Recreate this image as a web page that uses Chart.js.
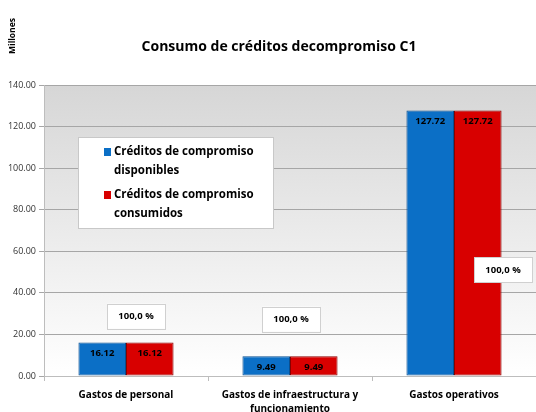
<!DOCTYPE html>
<html><head><meta charset="utf-8">
<script src="https://cdn.jsdelivr.net/npm/chart.js@4/dist/chart.umd.min.js"></script>
<style>html,body{margin:0;padding:0;background:#fff}#wrap{width:536px;height:412px;position:relative}</style>
</head><body><div id="wrap"><canvas id="c" width="536" height="412"></canvas></div>
<script>
const categories = [["Gastos de personal"], ["Gastos de infraestructura y", "funcionamiento"], ["Gastos operativos"]];
const seriesNames = ["Créditos de compromiso disponibles", "Créditos de compromiso consumidos"];
const disponibles = [16.12, 9.49, 127.72];
const consumidos = [16.12, 9.49, 127.72];
const percentLabels = ["100,0 %", "100,0 %", "100,0 %"];
const percentY = [28.8, 27.4, 51];
const yTicks = [0, 20, 40, 60, 80, 100, 120, 140];
const chartTitle = "Consumo de créditos decompromiso C1";
const unitLabel = "Millones";

const FONT = "'Open Sans', 'Liberation Sans', sans-serif";

function vGrad(ctx, top, bottom, c0, c1, c2) {
  const g = ctx.createLinearGradient(0, top, 0, bottom);
  g.addColorStop(0, c0); g.addColorStop(0.06, c1); g.addColorStop(1, c2);
  return g;
}

const decor = {
  id: 'decor',
  beforeDraw(chart) {
    const {ctx, chartArea: a} = chart;
    const g = ctx.createLinearGradient(0, a.top, 0, a.bottom);
    g.addColorStop(0, '#d6d6d6');
    g.addColorStop(1, '#ffffff');
    ctx.save();
    ctx.fillStyle = g;
    ctx.fillRect(a.left, a.top, a.right - a.left, a.bottom - a.top);
    ctx.restore();
  },
  afterDraw(chart) {
    const {ctx, chartArea: a, scales} = chart;
    ctx.save();
    ctx.fillStyle = '#000';
    ctx.font = "bold 14px " + FONT;
    ctx.textAlign = 'center'; ctx.textBaseline = 'middle';
    ctx.fillText(chartTitle, 279, 47);
    ctx.save();
    ctx.translate(13, 36);
    ctx.rotate(-Math.PI / 2);
    ctx.font = "bold 8.5px " + FONT;
    ctx.fillText(unitLabel, 0, 0);
    ctx.restore();
    ctx.font = "bold 9.5px " + FONT;
    ctx.textBaseline = 'middle';
    chart.data.datasets.forEach((ds, di) => {
      chart.getDatasetMeta(di).data.forEach((bar, i) => {
        ctx.fillStyle = '#000';
        ctx.fillText(ds.data[i].toFixed(2), bar.x, bar.y + 11);
      });
    });
    const xOff = [10, 1, 49];
    ctx.font = "bold 9.5px " + FONT;
    percentLabels.forEach((t, i) => {
      const cx = scales.x.getPixelForValue(i) + xOff[i];
      const cy = scales.y.getPixelForValue(percentY[i]);
      const w = 58, h = 25;
      ctx.fillStyle = '#fff';
      ctx.fillRect(cx - w/2, cy - h/2, w, h);
      ctx.strokeStyle = '#d0d0d0'; ctx.lineWidth = 1;
      ctx.strokeRect(Math.round(cx - w/2) + 0.5, Math.round(cy - h/2) + 0.5, w, h);
      ctx.fillStyle = '#000';
      ctx.fillText(t, cx, cy);
    });
    const lx = 78, ly = 137, lw = 195, lh = 91;
    ctx.fillStyle = '#fff';
    ctx.fillRect(lx, ly, lw, lh);
    ctx.strokeStyle = '#c8c8c8';
    ctx.strokeRect(lx + 0.5, ly + 0.5, lw, lh);
    const colors = ['#0b6fc6', '#d80000'];
    const lines = [["Créditos de compromiso", "disponibles"], ["Créditos de compromiso", "consumidos"]];
    ctx.font = "bold 11.5px " + FONT;
    ctx.textAlign = 'left';
    lines.forEach((ls, k) => {
      const y0 = 152 + k * 43;
      ctx.fillStyle = colors[k];
      ctx.fillRect(104, y0 - 4, 7, 8);
      ctx.fillStyle = '#000';
      ctx.fillText(ls[0], 114, y0);
      ctx.fillText(ls[1], 114, y0 + 19);
    });
    ctx.restore();
  }
};

const chart = new Chart(document.getElementById('c'), {
  type: 'bar',
  data: {
    labels: categories,
    datasets: [
      {label: seriesNames[0], data: disponibles, backgroundColor: '#0b6fc6', borderColor: '#0a4f90', borderWidth: 1, borderSkipped: false},
      {label: seriesNames[1], data: consumidos, backgroundColor: '#d80000', borderColor: '#8a0000', borderWidth: 1, borderSkipped: false}
    ]
  },
  options: {
    responsive: false,
    animation: false,
    devicePixelRatio: 1,
    layout: {padding: {top: 85, right: 0, left: 0, bottom: 0}},
    plugins: {legend: {display: false}, tooltip: {enabled: false}, title: {display: false}},
    datasets: {bar: {categoryPercentage: 0.58, barPercentage: 1}},
    scales: {
      x: {
        offset: true,
        grid: {offset: true, drawOnChartArea: false, drawTicks: true, tickLength: 5, color: '#bdbdbd'},
        border: {color: '#bdbdbd'},
        ticks: {color: '#000', font: {family: FONT, size: 10, weight: 'bold', lineHeight: 1.4}, padding: 7, maxRotation: 0, autoSkip: false},
        afterFit(s) { s.height = 36; }
      },
      y: {
        min: 0, max: 140,
        afterBuildTicks(s) { s.ticks = yTicks.map(v => ({value: v})); },
        grid: {color: '#a6a6a6', tickLength: 5, drawTicks: true},
        border: {color: '#bdbdbd'},
        ticks: {color: '#333', font: {family: FONT, size: 9}, padding: 3, callback: v => v.toFixed(2)},
        afterFit(s) { s.width = 44; }
      }
    }
  },
  plugins: [decor]
});
</script></body></html>
